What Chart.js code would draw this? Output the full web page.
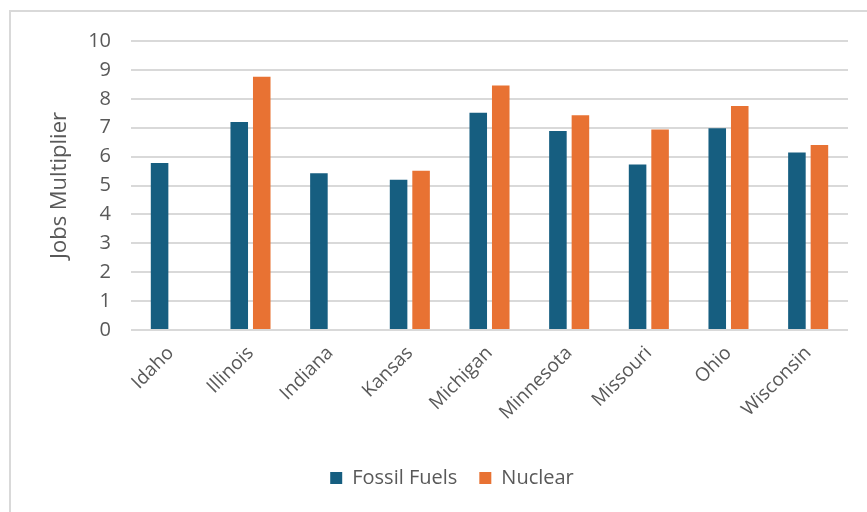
<!DOCTYPE html>
<html>
<head>
<meta charset="utf-8">
<script src="https://cdn.jsdelivr.net/npm/chart.js@4"></script>
<style>
  html, body { margin: 0; padding: 0; background: #fff; }
  #wrap { position: relative; width: 867px; height: 512px; }
  #frame {
    position: absolute; left: 9px; top: 10px; right: 0; bottom: 0;
    border-top: 2px solid #d9d9d9; border-left: 2px solid #d9d9d9;
    pointer-events: none;
  }
</style>
</head>
<body>
<div id="wrap">
  <canvas id="chart" width="867" height="512"></canvas>
  <div id="frame"></div>
</div>
<script>
const states = ["Idaho", "Illinois", "Indiana", "Kansas", "Michigan", "Minnesota", "Missouri", "Ohio", "Wisconsin"];
const fossilFuels = [5.78, 7.2, 5.42, 5.2, 7.52, 6.89, 5.73, 6.98, 6.14];
const nuclear = [null, 8.76, null, 5.51, 8.46, 7.43, 6.94, 7.75, 6.4];
const yTicks = [0, 1, 2, 3, 4, 5, 6, 7, 8, 9, 10];

const font = "'Open Sans', 'DejaVu Sans', sans-serif";
const gray = "#595959";

const ctx = document.getElementById('chart').getContext('2d');

const chart = new Chart(ctx, {
  type: 'bar',
  data: {
    labels: states,
    datasets: [{
      label: 'Fossil Fuels',
      data: fossilFuels,
      backgroundColor: '#165e80'
    }, {
      label: 'Nuclear',
      data: nuclear,
      backgroundColor: '#e87233'
    }]
  },
  options: {
    responsive: false,
    animation: false,
    // left padding also pushes the legend to the right, like the original
    layout: { padding: { left: 56, right: 19, top: 41, bottom: 14 } },
    datasets: {
      bar: { categoryPercentage: 0.565, barPercentage: 0.78 }
    },
    plugins: {
      tooltip: { enabled: false },
      legend: {
        position: 'bottom',
        labels: {
          color: gray,
          font: { family: font, size: 20 },
          boxWidth: 12,
          boxHeight: 12,
          padding: 22
        }
      }
    },
    scales: {
      x: {
        grid: { display: false },
        border: { display: false },
        ticks: {
          color: gray,
          font: { family: font, size: 19 },
          minRotation: 45,
          maxRotation: 45,
          padding: 4
        },
        afterFit: (scale) => { scale.height = 116; }
      },
      y: {
        min: 0,
        max: 10,
        afterBuildTicks: (scale) => { scale.ticks = yTicks.map(v => ({ value: v })); },
        grid: { color: '#d9d9d9', lineWidth: 2, drawTicks: false },
        border: { display: false },
        ticks: {
          color: gray,
          font: { family: font, size: 20 },
          padding: 20
        },
        title: {
          display: true,
          text: 'Jobs Multiplier',
          color: gray,
          font: { family: font, size: 22 },
          padding: { top: -9, bottom: 0 }
        },
        afterFit: (scale) => { scale.width = 75; }
      }
    }
  }
});
</script>
</body>
</html>
